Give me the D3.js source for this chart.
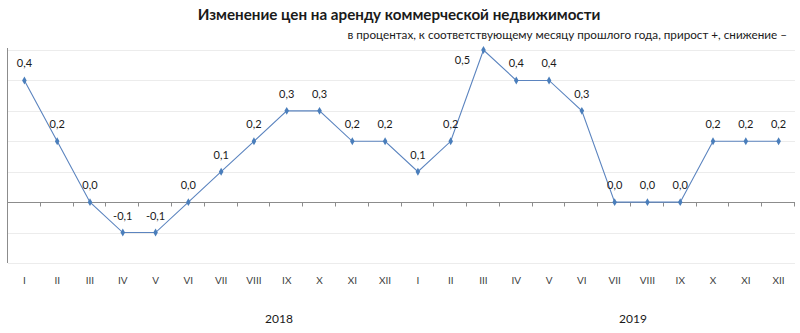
<!DOCTYPE html>
<html>
<head>
<meta charset="utf-8">
<script src="https://cdn.jsdelivr.net/npm/d3@7"></script>
<style>
  html, body { margin: 0; padding: 0; background: #ffffff; }
  svg { display: block; font-family: Lato, "Open Sans", sans-serif; }
</style>
</head>
<body>
<svg id="chart" width="800" height="333"></svg>
<script>
// Monthly rent price change, % vs. same month of previous year
const months = ["I", "II", "III", "IV", "V", "VI", "VII", "VIII", "IX", "X", "XI", "XII"];
const years = ["2018", "2019"];
const values2018 = [0.4, 0.2, 0.0, -0.1, -0.1, 0.0, 0.1, 0.2, 0.3, 0.3, 0.2, 0.2];
const values2019 = [0.1, 0.2, 0.5, 0.4, 0.4, 0.3, 0.0, 0.0, 0.0, 0.2, 0.2, 0.2];
const gridTicks = [-0.2, -0.1, 0.1, 0.2, 0.3, 0.4, 0.5];

const title = "Изменение цен на аренду коммерческой недвижимости";
const subtitle = "в процентах, к соответствующему месяцу прошлого года, прирост +, снижение –";

const points = [];
years.forEach((yr, yi) => {
  const vals = yi === 0 ? values2018 : values2019;
  months.forEach((m, mi) => points.push({ key: yr + "-" + m, month: m, year: yr, value: vals[mi] }));
});

const svg = d3.select("#chart");
const plotLeft = 8, plotRight = 795, plotTop = 50, plotBottom = 263;

const x = d3.scaleBand().domain(points.map(d => d.key)).range([plotLeft, plotRight]).padding(0);
const y = d3.scaleLinear().domain([-0.2, 0.5]).range([plotBottom, plotTop]);
const fmt = v => d3.format(".1f")(v).replace(".", ",").replace("−", "-");

// Title and subtitle
svg.append("text").attr("x", 399).attr("y", 20)
  .attr("text-anchor", "middle").attr("font-size", 15.2).attr("font-weight", "bold")
  .attr("fill", "#1a1a1a").text(title);
svg.append("text").attr("x", 787).attr("y", 39)
  .attr("text-anchor", "end").attr("font-size", 11.7).attr("fill", "#1a1a1a").text(subtitle);

// Horizontal gridlines
svg.append("g").selectAll("line").data(gridTicks).join("line")
  .attr("x1", plotLeft).attr("x2", plotRight)
  .attr("y1", d => Math.round(y(d)) + 0.5).attr("y2", d => Math.round(y(d)) + 0.5)
  .attr("stroke", "#ececec").attr("stroke-width", 1);

// Vertical axis line
svg.append("line")
  .attr("x1", plotLeft - 0.5).attr("x2", plotLeft - 0.5)
  .attr("y1", plotTop - 2).attr("y2", plotBottom)
  .attr("stroke", "#8c8c8c").attr("stroke-width", 1);

// Zero axis with category ticks at band boundaries
const zeroY = Math.round(y(0)) + 0.5;
const axis = svg.append("g");
axis.append("line").attr("x1", plotLeft).attr("x2", plotRight).attr("y1", zeroY).attr("y2", zeroY)
  .attr("stroke", "#8c8c8c").attr("stroke-width", 1);
const boundaries = points.map(d => x(d.key)).concat([plotRight]);
axis.selectAll("line.tick").data(boundaries).join("line").attr("class", "tick")
  .attr("x1", d => Math.round(d) - 0.5).attr("x2", d => Math.round(d) - 0.5)
  .attr("y1", zeroY).attr("y2", zeroY + 4)
  .attr("stroke", "#8c8c8c").attr("stroke-width", 1);

// Month labels below the plot
svg.append("g").selectAll("text").data(points).join("text")
  .attr("x", d => x(d.key) + x.bandwidth() / 2).attr("y", 284)
  .attr("text-anchor", "middle").attr("font-size", 10).attr("fill", "#404040")
  .text(d => d.month);

// Year labels
const yearPos = { "2018": 279, "2019": 633 };
svg.append("g").selectAll("text").data(years).join("text")
  .attr("x", d => yearPos[d]).attr("y", 323)
  .attr("text-anchor", "middle").attr("font-size", 12).attr("fill", "#1a1a1a")
  .text(d => d);

// Line
const cx = d => x(d.key) + x.bandwidth() / 2;
svg.append("path").datum(points)
  .attr("fill", "none").attr("stroke", "#5b84bf").attr("stroke-width", 1.1)
  .attr("d", d3.line().x(cx).y(d => y(d.value)));

// Diamond markers
svg.append("g").selectAll("path").data(points).join("path")
  .attr("transform", d => `translate(${cx(d)},${y(d.value)})`)
  .attr("d", d3.symbol().type(d3.symbolDiamond).size(18))
  .attr("fill", "#4a7ebb");

// Value labels
const maxV = d3.max(points, d => d.value);
svg.append("g").selectAll("text").data(points).join("text")
  .attr("x", d => d.value === maxV ? cx(d) - 21 : cx(d))
  .attr("y", d => d.value === maxV ? y(d.value) + 14 : y(d.value) - 13)
  .attr("text-anchor", "middle").attr("font-size", 11).attr("fill", "#1a1a1a")
  .text(d => fmt(d.value));
</script>
</body>
</html>
